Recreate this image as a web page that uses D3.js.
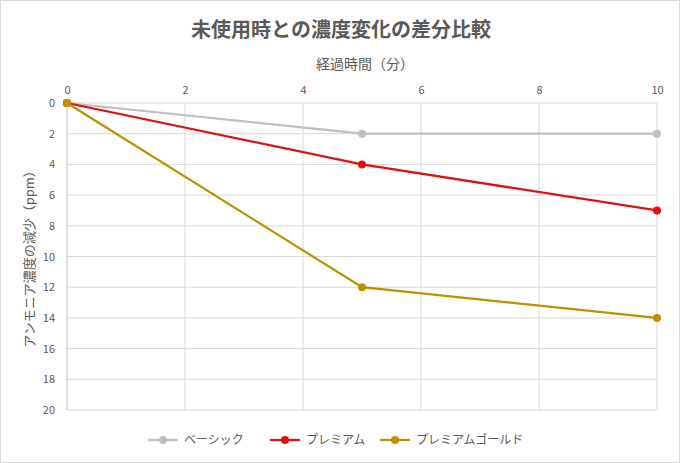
<!DOCTYPE html><html><head><meta charset="utf-8">
<script src="https://cdn.jsdelivr.net/npm/d3@7"></script>
<style>body{margin:0;background:#fff}text{font-family:"Noto Sans CJK JP","Noto Sans",sans-serif}</style></head><body>
<svg id="c" width="680" height="463"></svg>
<script>
const times=[0,5,10];
const basic=[0,2,2];
const premium=[0,4,7];
const gold=[0,12,14];
const seriesNames=["ベーシック","プレミアム","プレミアムゴールド"];
const colors=["#bfbfbf","#e01010","#bf9000"];
const xTicks=[0,2,4,6,8,10];
const yTicks=[0,2,4,6,8,10,12,14,16,18,20];
const svg=d3.select("#c");
const x=d3.scaleLinear().domain([0,10]).range([67,657]);
const y=d3.scaleLinear().domain([0,20]).range([103,410]);
svg.append("rect").attr("x",0.5).attr("y",0.5).attr("width",679).attr("height",462).attr("fill","#fff").attr("stroke","#d9d9d9");
svg.append("text").attr("x",341).attr("y",37).attr("text-anchor","middle").attr("font-size",20).attr("font-weight","bold").attr("fill","#595959").text("未使用時との濃度変化の差分比較");
svg.append("text").attr("x",365).attr("y",69).attr("text-anchor","middle").attr("font-size",14).attr("fill","#595959").text("経過時間（分）");
svg.append("text").attr("transform","translate(34,256) rotate(-90)").attr("text-anchor","middle").attr("font-size",13).attr("fill","#595959").text("アンモニア濃度の減少（ppm）");
const g=svg.append("g");
yTicks.forEach(t=>g.append("line").attr("x1",67).attr("x2",657).attr("y1",y(t)).attr("y2",y(t)).attr("stroke","#d9d9d9"));
xTicks.slice(1).forEach(t=>g.append("line").attr("x1",x(t)).attr("x2",x(t)).attr("y1",103).attr("y2",410).attr("stroke","#d9d9d9"));
g.append("line").attr("x1",67).attr("x2",67).attr("y1",103).attr("y2",410).attr("stroke","#bfbfbf");
const xa=svg.append("g").attr("transform","translate(0,103)").call(d3.axisTop(x).tickValues(xTicks).tickSize(0).tickPadding(9));
const ya=svg.append("g").attr("transform","translate(67,0)").call(d3.axisLeft(y).tickValues(yTicks).tickSize(0).tickPadding(12));
[xa,ya].forEach(a=>{a.select(".domain").remove();a.selectAll("text").attr("font-size",11).attr("fill","#595959").attr("font-family","'Noto Sans',sans-serif");});
const data=[basic,premium,gold];
const line=d3.line().x((d,i)=>x(times[i])).y(d=>y(d));
data.forEach((s,k)=>{
 svg.append("path").datum(s).attr("d",line).attr("fill","none").attr("stroke",colors[k]).attr("stroke-width",2.25);
 svg.selectAll(null).data(s).enter().append("circle").attr("cx",(d,i)=>x(times[i])).attr("cy",d=>y(d)).attr("r",4).attr("fill",colors[k]);
});
const lx=[148,270,380];
seriesNames.forEach((n,k)=>{
 const lg=svg.append("g").attr("transform",`translate(${lx[k]},440)`);
 lg.append("line").attr("x1",0).attr("x2",30).attr("stroke",colors[k]).attr("stroke-width",2.25);
 lg.append("circle").attr("cx",15).attr("r",4).attr("fill",colors[k]);
 lg.append("text").attr("x",36).attr("y",4).attr("font-size",12).attr("fill","#595959").text(n);
});
</script></body></html>
